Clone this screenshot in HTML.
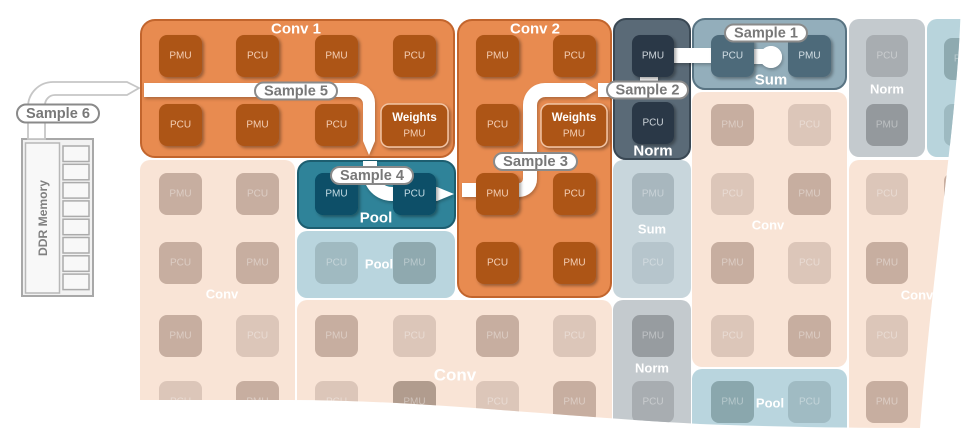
<!DOCTYPE html>
<html><head><meta charset="utf-8"><style>
html,body{margin:0;padding:0;background:#fff;}
svg{display:block;}
text{font-family:"Liberation Sans",sans-serif;text-anchor:middle;dominant-baseline:central;}
.u{font-size:10px;}
.lb{font-weight:bold;fill:#fff;}
.s{font-weight:bold;font-size:15px;fill:#787878;}
</style></head><body>
<svg width="972" height="447" viewBox="0 0 972 447" xmlns="http://www.w3.org/2000/svg">
<defs>
<filter id="sh" x="-20%" y="-20%" width="150%" height="150%"><feDropShadow dx="2" dy="2" stdDeviation="1.5" flood-color="#000" flood-opacity="0.35"/></filter>
<filter id="bs" x="-20%" y="-20%" width="150%" height="150%"><feDropShadow dx="1" dy="2" stdDeviation="1.5" flood-color="#000" flood-opacity="0.25"/></filter>
<clipPath id="cp"><path d="M139 0 L961 0 C958 120 935 240 920 428 C850 428 780 427 700 424 C550 416 420 400 290 400 L139 400 Z"/></clipPath>
</defs>

<!-- DDR memory -->
<rect x="22" y="139" width="71" height="157" fill="#f2f2f2" stroke="#a8a8a8" stroke-width="2"/>
<rect x="25.5" y="143" width="34" height="150" fill="#f8f8f8" stroke="#b8b8b8" stroke-width="1.5"/>
<g fill="#f8f8f8" stroke="#ababab" stroke-width="1.5">
<rect x="63" y="146" width="26" height="15.5"/>
<rect x="63" y="164.3" width="26" height="15.5"/>
<rect x="63" y="182.6" width="26" height="15.5"/>
<rect x="63" y="200.9" width="26" height="15.5"/>
<rect x="63" y="219.2" width="26" height="15.5"/>
<rect x="63" y="237.5" width="26" height="15.5"/>
<rect x="63" y="255.8" width="26" height="15.5"/>
<rect x="63" y="274.1" width="26" height="15.5"/>
</g>
<text x="43" y="218" transform="rotate(-90 43 218)" style="font-weight:bold;font-size:12px;fill:#808080" textLength="76" lengthAdjust="spacingAndGlyphs">DDR Memory</text>

<!-- Sample 6 arrow -->
<path d="M28 139 V107 A25 25 0 0 1 53 82 H127 L139 88 L127 95 H55 A10 10 0 0 0 45 105 V139 Z" fill="#fff" stroke="#c6c6c6" stroke-width="1.8"/>

<g clip-path="url(#cp)">
<!-- faded background regions -->
<rect x="140" y="160" width="155" height="280" rx="10" fill="#f9e4d6"/>
<rect x="297" y="231" width="158" height="67" rx="10" fill="#b9d5de"/>
<rect x="297" y="300" width="315" height="140" rx="10" fill="#f9e4d6"/>
<rect x="613" y="160" width="78" height="138" rx="10" fill="#c8d6dc"/>
<rect x="613" y="300" width="78" height="140" rx="10" fill="#c4cace"/>
<rect x="692" y="92" width="155" height="275" rx="10" fill="#f9e4d6"/>
<rect x="692" y="369" width="155" height="80" rx="10" fill="#b9d5de"/>
<rect x="849" y="19" width="76" height="138" rx="10" fill="#c4cace"/>
<rect x="927" y="19" width="60" height="138" rx="10" fill="#b8d4dc"/>
<rect x="849" y="160" width="140" height="290" rx="10" fill="#f9e4d6"/>

<!-- active boxes -->
<rect x="141" y="20" width="313" height="137" rx="14" fill="#e88b50" stroke="#c2652d" stroke-width="2"/>
<rect x="458" y="20" width="153" height="277" rx="14" fill="#e88b50" stroke="#c2652d" stroke-width="2"/>
<rect x="298" y="161" width="157" height="67" rx="12" fill="#2f8399" stroke="#1d5e70" stroke-width="2"/>
<rect x="614" y="19" width="76" height="140" rx="12" fill="#5a6a77" stroke="#3a4854" stroke-width="2"/>
<rect x="693" y="19" width="153" height="70" rx="12" fill="#93aebb" stroke="#587382" stroke-width="2"/>

<!-- white bands -->
<g fill="#fff" filter="url(#bs)">
<path d="M144 83 H355 A20 20 0 0 1 375 103 V141 L369 155 L363 141 V104 A7 7 0 0 0 356 97 H144 Z"/>
<path d="M363 161 H377 V172 A15 15 0 0 0 392 187 H437 L454 194 L437 201 H392 A29 29 0 0 1 363 172 Z"/>
<path d="M462 183 H519 A4 4 0 0 0 523 179 V105 A22 22 0 0 1 545 83 H585 L597 90 L585 97 H545 A8 8 0 0 0 537 105 V179 A18 18 0 0 1 519 197 H462 Z"/>
<rect x="598" y="83" width="15" height="14"/>
<rect x="640" y="75" width="18" height="9"/>
<rect x="668" y="48" width="46" height="15"/>
<rect x="750" y="49" width="16" height="15"/>
<circle cx="771" cy="57" r="11"/>
</g>

<!-- Conv1 units -->
<g filter="url(#sh)" fill="#ad5416">
<rect x="159" y="35" width="43" height="42" rx="8"/>
<rect x="236" y="35" width="43" height="42" rx="8"/>
<rect x="315" y="35" width="43" height="42" rx="8"/>
<rect x="393" y="35" width="43" height="42" rx="8"/>
<rect x="159" y="104" width="43" height="42" rx="8"/>
<rect x="236" y="104" width="43" height="42" rx="8"/>
<rect x="315" y="104" width="43" height="42" rx="8"/>
<rect x="476" y="35" width="43" height="42" rx="8"/>
<rect x="553" y="35" width="43" height="42" rx="8"/>
<rect x="476" y="104" width="43" height="42" rx="8"/>
<rect x="476" y="173" width="43" height="42" rx="8"/>
<rect x="553" y="173" width="43" height="42" rx="8"/>
<rect x="476" y="242" width="43" height="42" rx="8"/>
<rect x="553" y="242" width="43" height="42" rx="8"/>
</g>
<rect x="381" y="104" width="67" height="43" rx="8" fill="#ad5416" stroke="#f2c4a4" stroke-width="1.5" filter="url(#sh)"/>
<rect x="541" y="104" width="66" height="43" rx="8" fill="#ad5416" stroke="#f2c4a4" stroke-width="1.5" filter="url(#sh)"/>
<g class="u" fill="#f4cfb6">
<text x="180.5" y="56">PMU</text>
<text x="257.5" y="56">PCU</text>
<text x="336.5" y="56">PMU</text>
<text x="414.5" y="56">PCU</text>
<text x="180.5" y="125">PCU</text>
<text x="257.5" y="125">PMU</text>
<text x="336.5" y="125">PCU</text>
<text x="497.5" y="56">PMU</text>
<text x="574.5" y="56">PCU</text>
<text x="497.5" y="125">PCU</text>
<text x="497.5" y="194">PMU</text>
<text x="574.5" y="194">PCU</text>
<text x="497.5" y="263">PCU</text>
<text x="574.5" y="263">PMU</text>
<text x="414.5" y="134">PMU</text>
<text x="574" y="134">PMU</text>
</g>
<text class="lb" x="414.5" y="118" style="font-size:11.5px">Weights</text>
<text class="lb" x="574" y="118" style="font-size:11.5px">Weights</text>

<!-- Pool dark units -->
<g filter="url(#sh)" fill="#075068">
<rect x="315" y="173" width="43" height="42" rx="8"/>
<rect x="393" y="173" width="43" height="42" rx="8"/>
</g>
<g class="u" fill="#c6dde5">
<text x="336.5" y="194">PMU</text>
<text x="414.5" y="194">PCU</text>
</g>

<!-- Norm dark units -->
<g filter="url(#sh)" fill="#2b3846">
<rect x="632" y="35" width="42" height="42" rx="8"/>
<rect x="632" y="102" width="42" height="42" rx="8"/>
</g>
<g class="u" fill="#cdd4da">
<text x="653" y="56">PMU</text>
<text x="653" y="123">PCU</text>
</g>

<!-- Sum units -->
<g filter="url(#sh)" fill="#4e6a7a">
<rect x="711" y="35" width="43" height="42" rx="8"/>
<rect x="788" y="35" width="43" height="42" rx="8"/>
</g>
<g class="u" fill="#d3dfe5">
<text x="732.5" y="56">PCU</text>
<text x="809.5" y="56">PMU</text>
</g>
<circle cx="771" cy="57" r="11" fill="#fff"/>

<!-- faded units -->
<g>
<!-- col A -->
<rect x="159" y="173" width="43" height="42" rx="8" fill="#c7aea0"/>
<rect x="236" y="173" width="43" height="42" rx="8" fill="#c7aea0"/>
<rect x="159" y="242" width="43" height="42" rx="8" fill="#c7aea0"/>
<rect x="236" y="242" width="43" height="42" rx="8" fill="#c7aea0"/>
<rect x="159" y="315" width="43" height="42" rx="8" fill="#c7aea0"/>
<rect x="236" y="315" width="43" height="42" rx="8" fill="#dcc6b9"/>
<rect x="159" y="381" width="43" height="42" rx="8" fill="#dcc6b9"/>
<rect x="236" y="381" width="43" height="42" rx="8" fill="#c7aea0"/>
<!-- col B/C bottom -->
<rect x="315" y="315" width="43" height="42" rx="8" fill="#c7aea0"/>
<rect x="393" y="315" width="43" height="42" rx="8" fill="#dcc6b9"/>
<rect x="476" y="315" width="43" height="42" rx="8" fill="#c7aea0"/>
<rect x="553" y="315" width="43" height="42" rx="8" fill="#dcc6b9"/>
<rect x="315" y="381" width="43" height="42" rx="8" fill="#dcc6b9"/>
<rect x="393" y="381" width="43" height="42" rx="8" fill="#b19c8e"/>
<rect x="476" y="381" width="43" height="42" rx="8" fill="#dcc6b9"/>
<rect x="553" y="381" width="43" height="42" rx="8" fill="#c7aea0"/>
<!-- pool B light -->
<rect x="315" y="242" width="43" height="42" rx="8" fill="#a0bac1"/>
<rect x="393" y="242" width="43" height="42" rx="8" fill="#8fa9af"/>
<!-- col D -->
<rect x="632" y="173" width="42" height="42" rx="8" fill="#a8b7be"/>
<rect x="632" y="242" width="42" height="42" rx="8" fill="#b6c5cc"/>
<rect x="632" y="315" width="42" height="42" rx="8" fill="#979ca0"/>
<rect x="632" y="381" width="42" height="42" rx="8" fill="#a8adb1"/>
<!-- col E -->
<rect x="711" y="104" width="43" height="42" rx="8" fill="#c7aea0"/>
<rect x="788" y="104" width="43" height="42" rx="8" fill="#dcc6b9"/>
<rect x="711" y="173" width="43" height="42" rx="8" fill="#dcc6b9"/>
<rect x="788" y="173" width="43" height="42" rx="8" fill="#c7aea0"/>
<rect x="711" y="242" width="43" height="42" rx="8" fill="#c7aea0"/>
<rect x="788" y="242" width="43" height="42" rx="8" fill="#dcc6b9"/>
<rect x="711" y="315" width="43" height="42" rx="8" fill="#dcc6b9"/>
<rect x="788" y="315" width="43" height="42" rx="8" fill="#c7aea0"/>
<rect x="711" y="381" width="43" height="42" rx="8" fill="#8aa7ad"/>
<rect x="788" y="381" width="43" height="42" rx="8" fill="#a0bbc3"/>
<!-- col F -->
<rect x="866" y="35" width="42" height="42" rx="8" fill="#a8adb1"/>
<rect x="866" y="104" width="42" height="42" rx="8" fill="#94999d"/>
<rect x="866" y="173" width="42" height="42" rx="8" fill="#dcc6b9"/>
<rect x="866" y="242" width="42" height="42" rx="8" fill="#c7aea0"/>
<rect x="866" y="315" width="42" height="42" rx="8" fill="#dcc6b9"/>
<rect x="866" y="381" width="42" height="42" rx="8" fill="#c7aea0"/>
<!-- col G -->
<rect x="944" y="38" width="42" height="42" rx="8" fill="#8eaab0"/>
<rect x="944" y="104" width="42" height="42" rx="8" fill="#9ebac1"/>
<rect x="944" y="173" width="42" height="42" rx="8" fill="#c7aea0"/>
</g>
<g class="u" fill="#fff" fill-opacity="0.38">
<text x="180.5" y="194">PMU</text>
<text x="257.5" y="194">PCU</text>
<text x="180.5" y="263">PCU</text>
<text x="257.5" y="263">PMU</text>
<text x="180.5" y="336">PMU</text>
<text x="257.5" y="336">PCU</text>
<text x="180.5" y="402">PCU</text>
<text x="257.5" y="402">PMU</text>
<text x="336.5" y="336">PMU</text>
<text x="414.5" y="336">PCU</text>
<text x="497.5" y="336">PMU</text>
<text x="574.5" y="336">PCU</text>
<text x="336.5" y="402">PCU</text>
<text x="414.5" y="402">PMU</text>
<text x="497.5" y="402">PCU</text>
<text x="574.5" y="402">PMU</text>
<text x="336.5" y="263">PCU</text>
<text x="414.5" y="263">PMU</text>
<text x="653" y="194">PMU</text>
<text x="653" y="263">PCU</text>
<text x="653" y="336">PMU</text>
<text x="653" y="402">PCU</text>
<text x="732.5" y="125">PMU</text>
<text x="809.5" y="125">PCU</text>
<text x="732.5" y="194">PCU</text>
<text x="809.5" y="194">PMU</text>
<text x="732.5" y="263">PMU</text>
<text x="809.5" y="263">PCU</text>
<text x="732.5" y="336">PCU</text>
<text x="809.5" y="336">PMU</text>
<text x="732.5" y="402">PMU</text>
<text x="809.5" y="402">PCU</text>
<text x="887" y="56">PCU</text>
<text x="887" y="125">PMU</text>
<text x="887" y="194">PCU</text>
<text x="887" y="263">PMU</text>
<text x="887" y="336">PCU</text>
<text x="887" y="402">PMU</text>
<text x="965" y="59">PMU</text>
<text x="965" y="125">PCU</text>
</g>

<!-- labels -->
<text class="lb" x="296" y="29" style="font-size:15px">Conv 1</text>
<text class="lb" x="535" y="29" style="font-size:15px">Conv 2</text>
<text class="lb" x="376" y="218" style="font-size:15px">Pool</text>
<text class="lb" x="653" y="151" style="font-size:15px">Norm</text>
<text class="lb" x="771" y="80" style="font-size:15px">Sum</text>
<text class="lb" x="222" y="294" style="font-size:13px">Conv</text>
<text class="lb" x="379" y="264" style="font-size:13px">Pool</text>
<text class="lb" x="455" y="375" style="font-size:17px">Conv</text>
<text class="lb" x="652" y="229" style="font-size:13px">Sum</text>
<text class="lb" x="652" y="368" style="font-size:13px">Norm</text>
<text class="lb" x="768" y="225" style="font-size:13px">Conv</text>
<text class="lb" x="770" y="403" style="font-size:13px">Pool</text>
<text class="lb" x="887" y="89" style="font-size:13px">Norm</text>
<text class="lb" x="917" y="295" style="font-size:13px">Conv</text>

<!-- sample pills inside grid -->
<g fill="#fff" stroke="#8a8a8a" stroke-width="2">
<rect x="725" y="24.5" width="82" height="17" rx="8.5"/>
<rect x="607" y="81.5" width="81" height="17" rx="8.5"/>
<rect x="494" y="153" width="83" height="17" rx="8.5"/>
<rect x="331" y="167" width="82" height="17" rx="8.5"/>
<rect x="255" y="82.5" width="82" height="17" rx="8.5"/>
</g>
<g class="s">
<text x="766" y="33" textLength="64" lengthAdjust="spacingAndGlyphs">Sample 1</text>
<text x="647.5" y="90" textLength="64" lengthAdjust="spacingAndGlyphs">Sample 2</text>
<text x="535.5" y="161.5" textLength="65" lengthAdjust="spacingAndGlyphs">Sample 3</text>
<text x="372" y="175.5" textLength="64" lengthAdjust="spacingAndGlyphs">Sample 4</text>
<text x="296" y="91" textLength="64" lengthAdjust="spacingAndGlyphs">Sample 5</text>
</g>
</g>

<!-- Sample 6 pill -->
<rect x="17" y="104.5" width="82" height="18" rx="9" fill="#fff" stroke="#8a8a8a" stroke-width="2"/>
<text class="s" x="58" y="113.5" textLength="64" lengthAdjust="spacingAndGlyphs">Sample 6</text>
</svg>
</body></html>
